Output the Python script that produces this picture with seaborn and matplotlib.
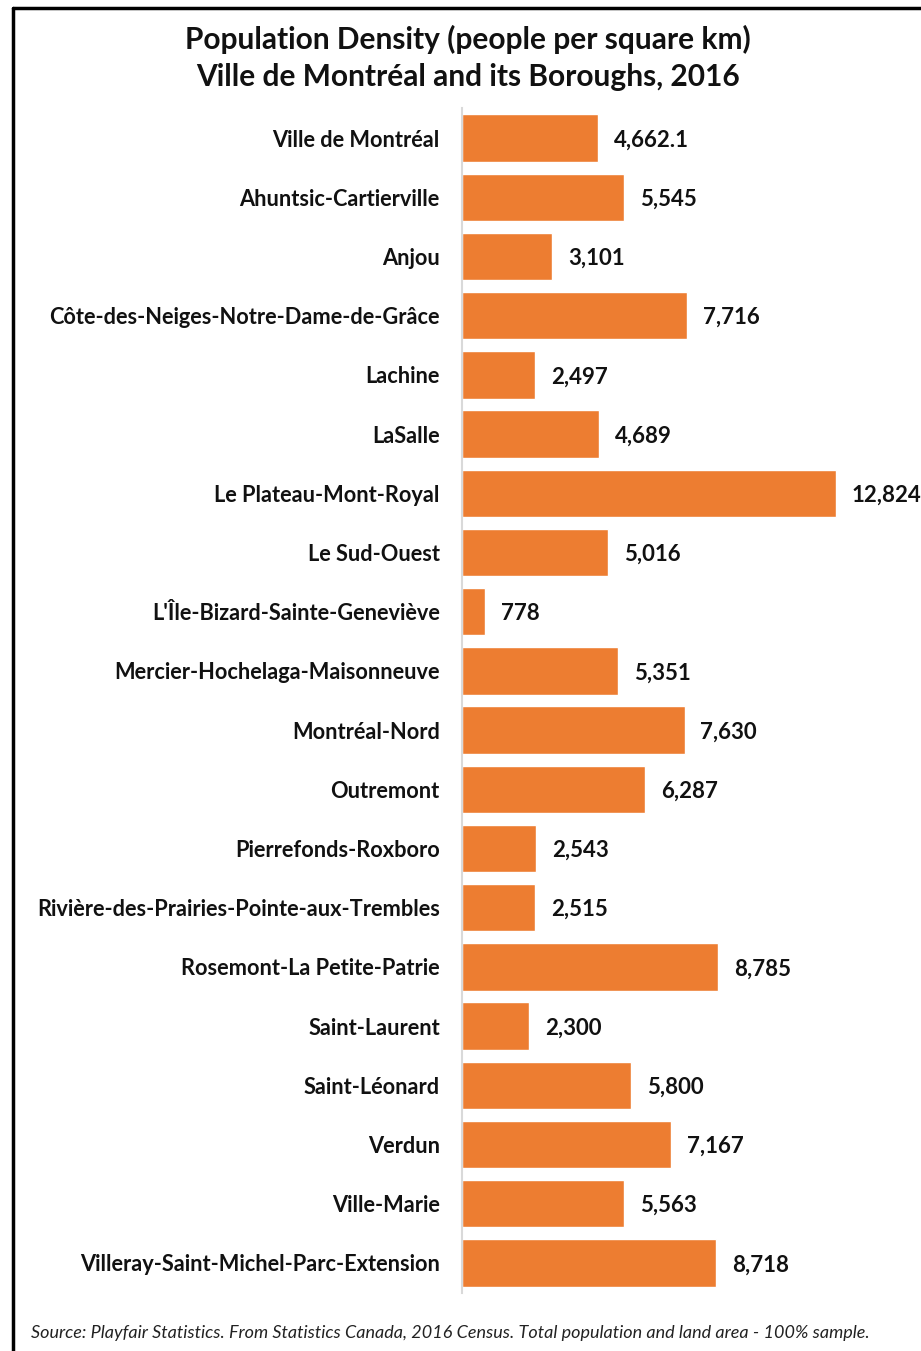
import matplotlib
matplotlib.use('Agg')
import matplotlib.pyplot as plt
from matplotlib.lines import Line2D
import pandas as pd
import seaborn as sns

boroughs = [
    'Ville de Montréal', 'Ahuntsic-Cartierville', 'Anjou',
    'Côte-des-Neiges-Notre-Dame-de-Grâce', 'Lachine', 'LaSalle',
    'Le Plateau-Mont-Royal', 'Le Sud-Ouest', "L'Île-Bizard-Sainte-Geneviève",
    'Mercier-Hochelaga-Maisonneuve', 'Montréal-Nord', 'Outremont',
    'Pierrefonds-Roxboro', 'Rivière-des-Prairies-Pointe-aux-Trembles',
    'Rosemont-La Petite-Patrie', 'Saint-Laurent', 'Saint-Léonard',
    'Verdun', 'Ville-Marie', 'Villeray-Saint-Michel-Parc-Extension',
]
density = [4662.1, 5545, 3101, 7716, 2497, 4689, 12824, 5016, 778, 5351,
           7630, 6287, 2543, 2515, 8785, 2300, 5800, 7167, 5563, 8718]

df = pd.DataFrame({'Borough': boroughs, 'Density': density})

sns.set_style('white')
plt.rcParams['font.family'] = ['Lato', 'DejaVu Sans']

fig = plt.figure(figsize=(9.21, 13.51), dpi=100)
ax = fig.add_axes([462 / 921, 1 - 1292.5 / 1351, 1 - 462 / 921, 1184 / 1351])

sns.barplot(data=df, x='Density', y='Borough', orient='h', color='#ED7D31',
            saturation=1, width=0.8, ax=ax)

labels = [f'{v:,.1f}' if v != int(v) else f'{v:,.0f}' for v in density]
texts = ax.bar_label(ax.containers[0], labels=labels, padding=11.5,
                     fontsize=16, fontweight='bold', color='#111111')
for t in texts:
    t.set_va('center_baseline')

ax.set_xlim(0, 459 / (374 / 12824))
ax.set_xlabel('')
ax.set_ylabel('')
ax.set_xticks([])
ax.tick_params(axis='y', length=0, pad=16, labelsize=15.7)
for lab in ax.get_yticklabels():
    lab.set_fontweight('bold')
    lab.set_color('#111111')
for side in ['top', 'right', 'bottom']:
    ax.spines[side].set_visible(False)
ax.spines['left'].set_color('#D9D9D9')
ax.spines['left'].set_linewidth(1.5)

fig.text(468 / 921, 1 - 58 / 1351,
         'Population Density (people per square km)\nVille de Montréal and its Boroughs, 2016',
         ha='center', va='center', fontsize=21.5, fontweight='bold',
         linespacing=1.4, color='#111111')

fig.text(450 / 921, 1 - 1333 / 1351,
         'Source: Playfair Statistics. From Statistics Canada, 2016 Census. '
         'Total population and land area - 100% sample.',
         ha='center', va='center', fontsize=13, style='italic', color='#222222')

# frame (left and top edges visible)
fig.add_artist(Line2D([13 / 921, 13 / 921], [0, 1 - 8 / 1351],
                      transform=fig.transFigure, color='black', linewidth=2.5))
fig.add_artist(Line2D([13 / 921, 1], [1 - 8 / 1351, 1 - 8 / 1351],
                      transform=fig.transFigure, color='black', linewidth=2.5))

fig.savefig('out.png', dpi=100)
